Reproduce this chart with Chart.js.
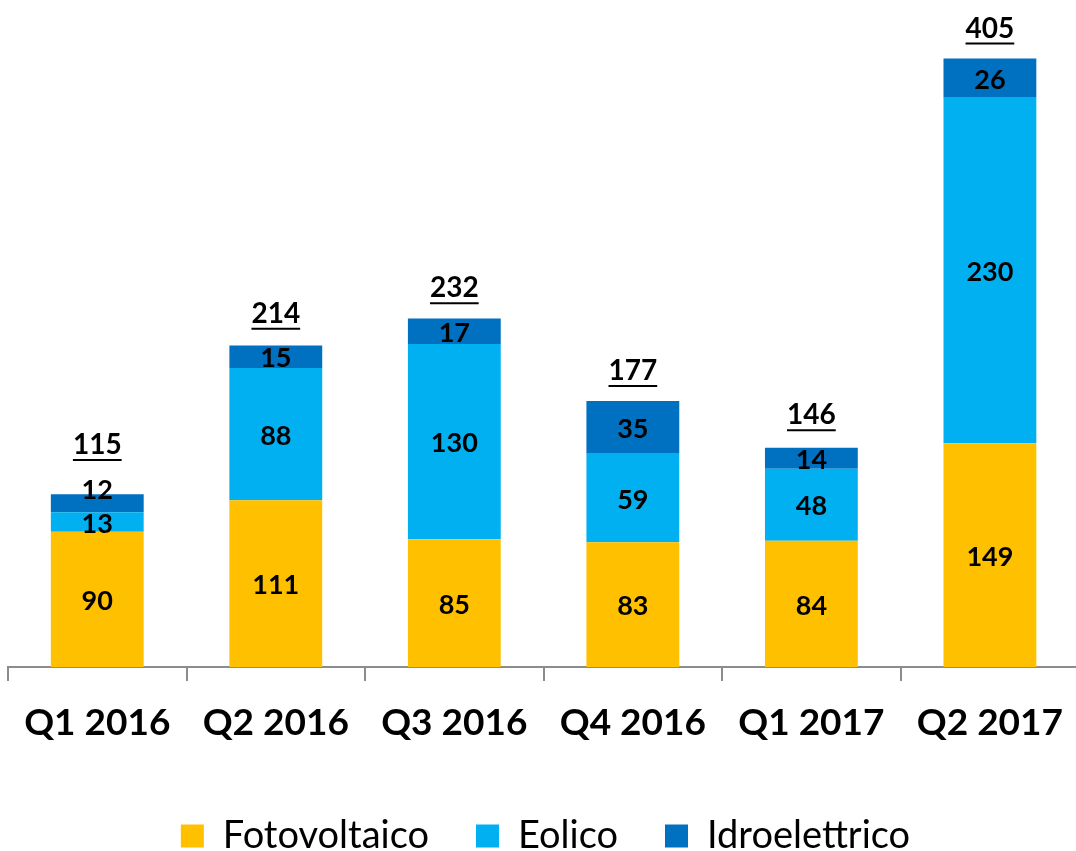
<!DOCTYPE html>
<html>
<head>
<meta charset="utf-8">
<script src="https://cdn.jsdelivr.net/npm/chart.js"></script>
<style>
  html, body { margin: 0; padding: 0; background: #fff; overflow: hidden; }
  #wrap { width: 1076px; height: 851px; overflow: hidden; }
</style>
</head>
<body>
<div id="wrap"><canvas id="myChart" width="1083" height="851"></canvas></div>
<script>
const quarters = ['Q1 2016', 'Q2 2016', 'Q3 2016', 'Q4 2016', 'Q1 2017', 'Q2 2017'];
const fotovoltaico = [90, 111, 85, 83, 84, 149];
const eolico = [13, 88, 130, 59, 48, 230];
const idroelettrico = [12, 15, 17, 35, 14, 26];
const totals = [115, 214, 232, 177, 146, 405];

const FONT = 'Lato, "Open Sans", sans-serif';

// segment values + underlined totals on top
const labelPlugin = {
  id: 'labels',
  afterDatasetsDraw(chart) {
    const ctx = chart.ctx;
    const n = chart.data.datasets.length;
    ctx.save();
    ctx.fillStyle = '#000';
    ctx.strokeStyle = '#000';
    ctx.textAlign = 'center';
    ctx.textBaseline = 'middle';
    chart.data.labels.forEach((_, j) => {
      ctx.font = 'bold 27px ' + FONT;
      let prev = null;
      let x = 0, topY = 0;
      for (let i = 0; i < n; i++) {
        const bar = chart.getDatasetMeta(i).data[j];
        let y = (bar.y + bar.base) / 2 + 2;
        // small segments: push the label up so it doesn't collide
        if (prev !== null && y > prev - 34) y = prev - 34;
        ctx.fillText(String(chart.data.datasets[i].data[j]), bar.x, y);
        prev = y;
        x = bar.x;
        topY = bar.y;
      }
      // total above the stack
      ctx.font = 'bold 28px ' + FONT;
      const txt = String(totals[j]);
      const ty = Math.min(topY - 30, prev - 45);
      ctx.fillText(txt, x, ty);
      const w = ctx.measureText(txt).width;
      ctx.lineWidth = 2;
      ctx.beginPath();
      ctx.moveTo(x - w / 2, ty + 15);
      ctx.lineTo(x + w / 2, ty + 15);
      ctx.stroke();
    });
    ctx.restore();
  }
};

new Chart(document.getElementById('myChart').getContext('2d'), {
  type: 'bar',
  data: {
    labels: quarters,
    datasets: [
      { label: 'Fotovoltaico', data: fotovoltaico, backgroundColor: '#FFC000' },
      { label: 'Eolico', data: eolico, backgroundColor: '#00B0F0' },
      { label: 'Idroelettrico', data: idroelettrico, backgroundColor: '#0070C0' }
    ]
  },
  options: {
    responsive: false,
    animation: false,
    layout: { padding: { left: 8, right: 0, top: 0, bottom: -14 } },
    datasets: { bar: { categoryPercentage: 1, barPercentage: 0.52 } },
    plugins: {
      tooltip: { enabled: false },
      legend: {
        position: 'bottom',
        labels: {
          boxWidth: 23, boxHeight: 23, padding: 47,
          color: '#000',
          font: { family: FONT, size: 38 }
        }
      }
    },
    scales: {
      x: {
        stacked: true,
        grid: { offset: true, drawOnChartArea: false, tickLength: 14, color: '#8c8c8c', lineWidth: 2 },
        border: { color: '#8c8c8c', width: 2 },
        ticks: { color: '#000', padding: 20, font: { family: FONT, size: 37, weight: 'bold' } },
        afterFit(scale) { scale.height = 103; }
      },
      y: { stacked: true, display: false, min: 0, max: 444 }
    }
  },
  plugins: [labelPlugin]
});
</script>
</body>
</html>
